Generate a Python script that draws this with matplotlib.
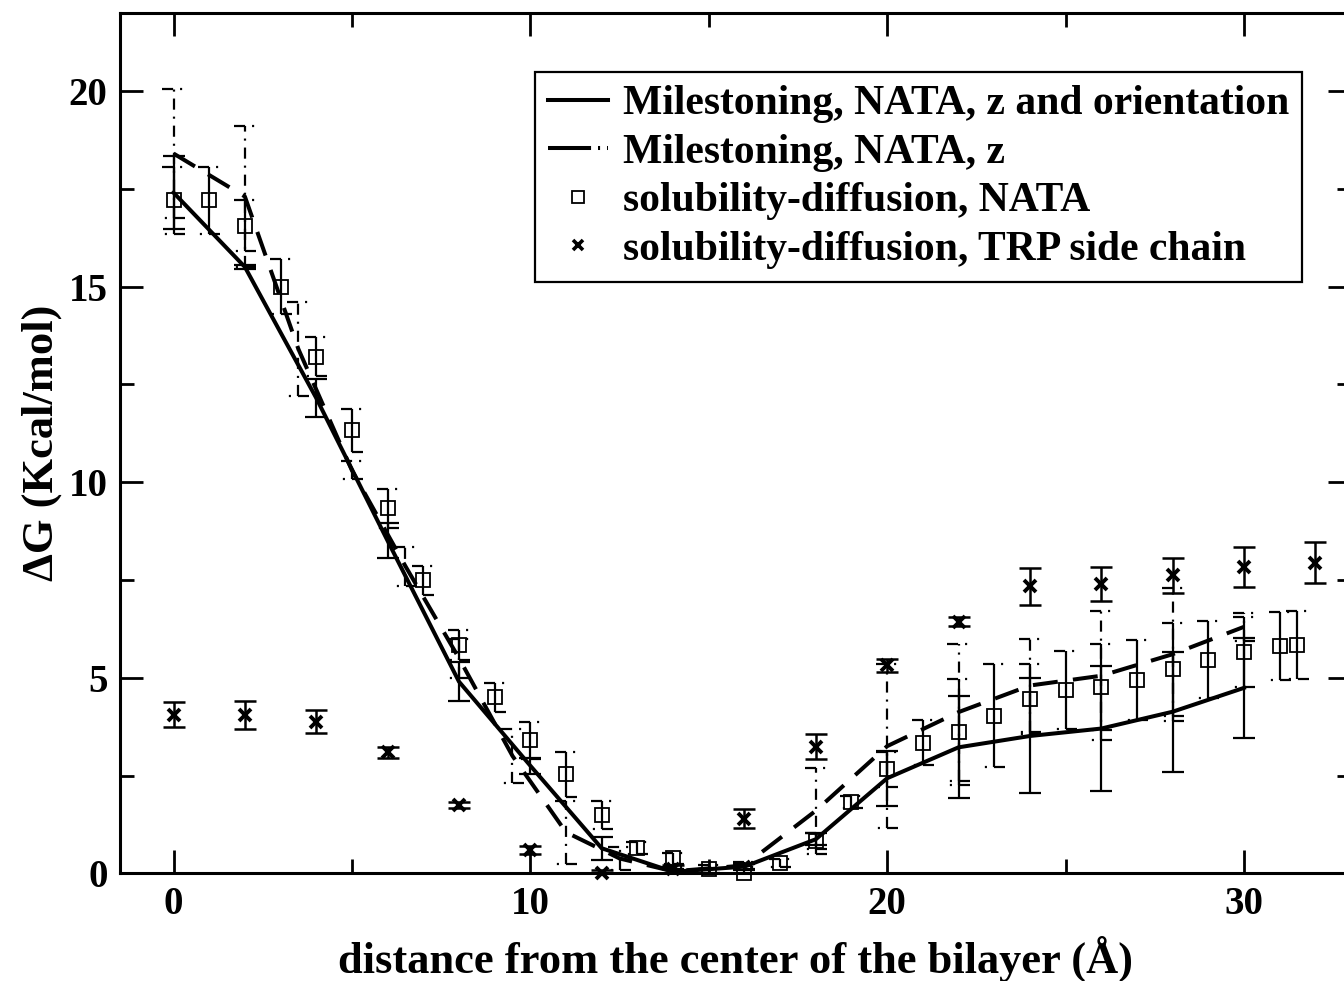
import matplotlib
matplotlib.use("Agg")
import matplotlib.pyplot as plt
from matplotlib.collections import LineCollection
from matplotlib.lines import Line2D
import numpy as np

plt.rcParams['font.family'] = ['Liberation Serif', 'DejaVu Serif']
plt.rcParams['font.weight'] = 'bold'
plt.rcParams['axes.labelweight'] = 'bold'
plt.rcParams['lines.scale_dashes'] = False

# --- Milestoning, NATA, z and orientation (solid) ---
ms_zo_x = [0, 2, 4, 6, 8, 10, 12, 14, 16, 18, 20, 22, 24, 26, 28, 30]
ms_zo_y = [17.4, 15.5, 12.15, 8.5, 4.9, 2.75, 0.64, 0.04, 0.17, 0.87,
           2.43, 3.22, 3.51, 3.70, 4.13, 4.74]
ms_zo_err = [0.93, 0.06, 0.48, 0.45, 0.5, 0.2, 0.3, 0.08, 0.08, 0.15,
             0.7, 1.3, 1.47, 1.6, 1.53, 1.28]

# --- Milestoning, NATA, z (dash-dot) ---
ms_z_x = [0, 2, 3.5, 5, 6.5, 8, 9.5, 11, 12.5, 14, 16, 18, 20, 22, 24, 26, 28, 30]
ms_z_y = [18.4, 17.3, 13.4, 10.3, 7.85, 5.5, 3.0, 1.05, 0.38, 0.05, 0.2, 1.6,
          3.25, 4.12, 4.8, 5.05, 5.6, 6.3]
ms_z_err = [1.64, 1.8, 1.2, 0.23, 0.5, 0.5, 0.7, 0.8, 0.3, 0.1, 0.1, 1.1,
            2.1, 1.75, 1.2, 1.65, 1.7, 0.35]

# --- solubility-diffusion, NATA (open squares) ---
sd_nata_x = [0, 1, 2, 3, 4, 5, 6, 7, 8, 9, 10, 11, 12, 13, 14, 15, 16, 17,
             18, 19, 20, 21, 22, 23, 24, 25, 26, 27, 28, 29, 30, 31, 31.5]
sd_nata_y = [17.2, 17.2, 16.55, 15.0, 13.2, 11.32, 9.33, 7.49, 5.83, 4.5,
             3.4, 2.53, 1.49, 0.65, 0.38, 0.12, 0.02, 0.27, 0.83, 1.82,
             2.66, 3.34, 3.62, 4.03, 4.46, 4.68, 4.77, 4.94, 5.21, 5.46,
             5.66, 5.81, 5.83]
sd_nata_err = [0.85, 0.85, 0.65, 0.7, 0.5, 0.55, 0.5, 0.37, 0.38, 0.37,
               0.47, 0.58, 0.37, 0.15, 0.15, 0.1, 0.15, 0.1, 0.2, 0.15,
               0.45, 0.57, 1.35, 1.31, 0.9, 1.0, 1.1, 1.03, 1.2, 0.98,
               0.9, 0.87, 0.87]

# --- solubility-diffusion, TRP side chain (crosses) ---
sd_trp_x = [0, 2, 4, 6, 8, 10, 12, 14, 16, 18, 20, 22, 24, 26, 28, 30, 32]
sd_trp_y = [4.05, 4.05, 3.88, 3.09, 1.74, 0.6, 0.0, 0.1, 1.40, 3.23, 5.32,
            6.43, 7.34, 7.40, 7.62, 7.83, 7.94]
sd_trp_err = [0.32, 0.35, 0.3, 0.15, 0.08, 0.1, 0.08, 0.1, 0.25, 0.32, 0.17,
              0.12, 0.47, 0.43, 0.45, 0.52, 0.52]

legend_labels = ["Milestoning, NATA, z and orientation",
                 "Milestoning, NATA, z",
                 "solubility-diffusion, NATA",
                 "solubility-diffusion, TRP side chain"]

LINE_DASH = (0, (18, 11))
LEGEND_DASH = (0, (31, 5, 1.5, 5))
ERR_DASH = (0, (8, 5, 1.5, 5))
CAP_HALF = 0.31  # half width of error-bar caps, in x units

LABEL_SIZE = 32
LEGEND_SIZE = 30
TICK_SIZE = 28

fig = plt.figure(figsize=(13.44, 9.81), dpi=100)
ax = fig.add_axes([120 / 1344, (981 - 873.3) / 981, 1231 / 1344, 860.6 / 981])


def dashed_caps(x, y, e, lw=1.6):
    """Caps drawn as directed segments so the dash pattern starts at one end."""
    x = np.asarray(x, float)
    y = np.asarray(y, float)
    e = np.asarray(e, float)
    segs = []
    for xi, yi, ei in zip(x, y, e):
        segs.append([(xi - CAP_HALF, yi + ei), (xi + CAP_HALF, yi + ei)])
        segs.append([(xi + CAP_HALF, yi - ei), (xi - CAP_HALF, yi - ei)])
    lc = LineCollection(segs, colors='k', linewidths=lw, linestyles=ERR_DASH,
                        capstyle='butt', zorder=3)
    ax.add_collection(lc)


# solid milestoning curve with full-cap error bars
ax.errorbar(ms_zo_x, ms_zo_y, yerr=ms_zo_err, fmt='none', ecolor='k',
            elinewidth=1.6, capsize=8, capthick=1.6, zorder=3)
ax.plot(ms_zo_x, ms_zo_y, color='k', lw=2.9, zorder=4,
        solid_joinstyle='miter')

# dash-dot milestoning curve with dash-dot error bars
eb = ax.errorbar(ms_z_x, ms_z_y, yerr=ms_z_err, fmt='none', ecolor='k',
                 elinewidth=1.6, capsize=0, zorder=3)
for coll in eb[2]:
    coll.set_linestyle(ERR_DASH)
dashed_caps(ms_z_x, ms_z_y, ms_z_err)
ax.plot(ms_z_x, ms_z_y, color='k', lw=2.9, ls=LINE_DASH, zorder=4)

# solubility-diffusion NATA: solid risers, dash-dot caps, open squares
ax.errorbar(sd_nata_x, sd_nata_y, yerr=sd_nata_err, fmt='none', ecolor='k',
            elinewidth=1.6, capsize=0, zorder=3)
dashed_caps(sd_nata_x, sd_nata_y, sd_nata_err)
ax.plot(sd_nata_x, sd_nata_y, ls='none', marker='s', ms=10, mfc='none',
        mec='k', mew=1.3, zorder=5, clip_on=False)

# solubility-diffusion TRP side chain
ax.errorbar(sd_trp_x, sd_trp_y, yerr=sd_trp_err, fmt='none', ecolor='k',
            elinewidth=1.8, capsize=8, capthick=1.8, zorder=3)
ax.plot(sd_trp_x, sd_trp_y, ls='none', marker='x', ms=8, mec='k', mew=2.8,
        zorder=5, clip_on=False)

ax.set_xlim(-1.5, 33)
ax.set_ylim(0, 22)
ax.set_xticks([0, 10, 20, 30])
ax.set_xticks([5, 15, 25], minor=True)
ax.set_yticks([0, 5, 10, 15, 20])
ax.set_yticks([2.5, 7.5, 12.5, 17.5], minor=True)
ax.tick_params(which='both', direction='in', top=True, right=True,
               width=2, labelsize=TICK_SIZE, pad=9)
ax.tick_params(which='major', length=16.5)
ax.tick_params(which='minor', length=10)
for sp in ax.spines.values():
    sp.set_linewidth(2.2)

ax.set_xlabel("distance from the center of the bilayer (Å)",
              fontsize=LABEL_SIZE, labelpad=9)
ax.set_ylabel("ΔG (Kcal/mol)", fontsize=LABEL_SIZE, labelpad=5)

handles = [
    Line2D([], [], color='k', lw=2.9),
    Line2D([], [], color='k', lw=2.9, ls=LEGEND_DASH),
    Line2D([], [], ls='none', marker='s', ms=8, mfc='none', mec='k', mew=1.3),
    Line2D([], [], ls='none', marker='x', ms=7, mec='k', mew=2.6),
]
leg = ax.legend(handles, legend_labels, loc='upper right',
                bbox_to_anchor=(1302 / 1344, (981 - 72) / 981),
                bbox_transform=fig.transFigure, borderaxespad=0,
                fontsize=LEGEND_SIZE, frameon=True, fancybox=False,
                framealpha=1, edgecolor='k', handlelength=1.44,
                handletextpad=0.36, labelspacing=0.25, borderpad=0.31)
leg.get_frame().set_linewidth(1.6)

fig.savefig("out.png", dpi=100)
